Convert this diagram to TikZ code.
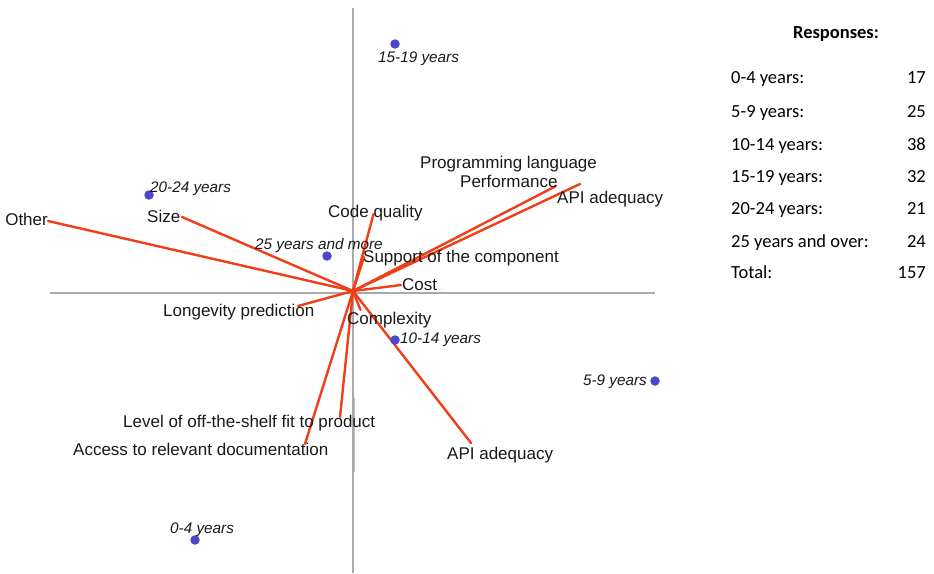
\documentclass[tikz,border=0pt]{standalone}
\usepackage{fontspec}
\setmainfont{Liberation Sans}
\newfontfamily\calib{Carlito}
\definecolor{vred}{RGB}{240,62,22}
\definecolor{vdot}{RGB}{72,72,200}
\definecolor{vaxis}{RGB}{170,170,170}
\begin{document}
\begin{tikzpicture}[x=1pt,y=-1pt,
  vec/.style={draw=vred,line width=2.4pt,line cap=round},
  axisline/.style={draw=vaxis,line width=1.3pt},
  lab/.style={inner sep=0pt,font=\fontsize{17}{17}\selectfont,text=black!90},
  grp/.style={inner sep=0pt,font=\fontsize{15.3}{15.3}\selectfont\itshape,text=black!90},
  pt/.style={circle,fill=vdot,inner sep=0pt,minimum size=9.5pt},
  tab/.style={inner sep=0pt,font=\calib\fontsize{18.5}{18.5}\selectfont}]
\useasboundingbox (0,0) rectangle (934,573);
% axes
\coordinate (hl) at (50,293);
\coordinate (hr) at (655,293);
\coordinate (vt) at (353,8);
\coordinate (vb) at (353,573);
\draw[axisline] (hl) -- (hr);
\draw[axisline] (vt) -- (vb);
\coordinate (gt) at (354.5,398);
\coordinate (gb) at (354.5,472);
\draw[draw=vaxis!70,line width=1pt] (gt) -- (gb);
% centre
\coordinate (o) at (353,291);
% vector ends
\coordinate (eOther) at (48,221);
\coordinate (eSize) at (182,217);
\coordinate (eCode) at (373.5,214);
\coordinate (eSupp) at (364,257);
\coordinate (ePerf) at (556,186);
\coordinate (eApiT) at (580,184);
\coordinate (eCost) at (401,285);
\coordinate (eLong) at (298,306);
\coordinate (eComp) at (360.5,310);
\coordinate (eApiB) at (471,443);
\coordinate (eLevel) at (340,417);
\coordinate (eAccess) at (305,444);
\foreach \e in {eOther,eSize,eCode,eSupp,ePerf,eApiT,eCost,eLong,eComp,eApiB,eLevel,eAccess}
  \draw[vec] (o) -- (\e);
% vector labels
\node[lab,anchor=base east] (lOther) at (48,225) {Other};
\node[lab,anchor=base west] (lSize) at (147,222) {Size};
\node[lab,anchor=base west] (lCode) at (328,217) {Code quality};
\node[lab,anchor=base west] (lProg) at (420,168) {Programming language};
\node[lab,anchor=base west] (lPerf) at (460,187) {Performance};
\node[lab,anchor=base west] (lApiT) at (557,203) {API adequacy};
\node[lab,anchor=base west] (lSupp) at (363,262) {Support of the component};
\node[lab,anchor=base west] (lCost) at (402,290) {Cost};
\node[inner sep=0pt,anchor=base west,text=black!30,font=\fontsize{9}{9}\selectfont] (dCost) at (438,290) {..};
\node[inner sep=0pt,anchor=base west,text=black!30,font=\fontsize{9}{9}\selectfont] (dQ) at (334,274) {..};
\node[lab,anchor=base west] (lLong) at (163,316.5) {Longevity prediction};
\node[lab,anchor=base west] (lComp) at (347,324) {Complexity};
\node[lab,anchor=base west] (lLevel) at (123,427) {Level of off-the-shelf fit to product};
\node[lab,anchor=base west] (lAccess) at (73,455) {Access to relevant documentation};
\node[lab,anchor=base west] (lApiB) at (447,459) {API adequacy};
% group points
\node[pt] (p1519) at (395,44) {};
\node[pt] (p2024) at (149,195) {};
\node[pt] (p25) at (327,256) {};
\node[pt] (p1014) at (395,340) {};
\node[pt] (p59) at (655,381) {};
\node[pt] (p04) at (195,540) {};
\node[grp,anchor=base west] (g1519) at (378,62.5) {15-19 years};
\node[grp,anchor=base west] (g2024) at (150,192.5) {20-24 years};
\node[grp,anchor=base west] (g25) at (255,249.5) {25 years and more};
\node[grp,anchor=base west] (g1014) at (400,343.5) {10-14 years};
\node[grp,anchor=base east] (g59) at (647,385.5) {5-9 years};
\node[grp,anchor=base west] (g04) at (170,533.5) {0-4 years};
% table
\node[tab,font=\calib\bfseries\fontsize{18.5}{18.5}\selectfont,anchor=base] (thead) at (836,38) {Responses:};
\node[tab,anchor=base west] (t1) at (731,83) {0-4 years:};
\node[tab,anchor=base east] (n1) at (926,83) {17};
\node[tab,anchor=base west] (t2) at (731,117) {5-9 years:};
\node[tab,anchor=base east] (n2) at (926,117) {25};
\node[tab,anchor=base west] (t3) at (731,150) {10-14 years:};
\node[tab,anchor=base east] (n3) at (926,150) {38};
\node[tab,anchor=base west] (t4) at (731,182) {15-19 years:};
\node[tab,anchor=base east] (n4) at (926,182) {32};
\node[tab,anchor=base west] (t5) at (731,214) {20-24 years:};
\node[tab,anchor=base east] (n5) at (926,214) {21};
\node[tab,anchor=base west] (t6) at (731,247) {25 years and over:};
\node[tab,anchor=base east] (n6) at (926,247) {24};
\node[tab,anchor=base west] (t7) at (731,278) {Total:};
\node[tab,anchor=base east] (n7) at (926,278) {157};
\end{tikzpicture}
\end{document}
